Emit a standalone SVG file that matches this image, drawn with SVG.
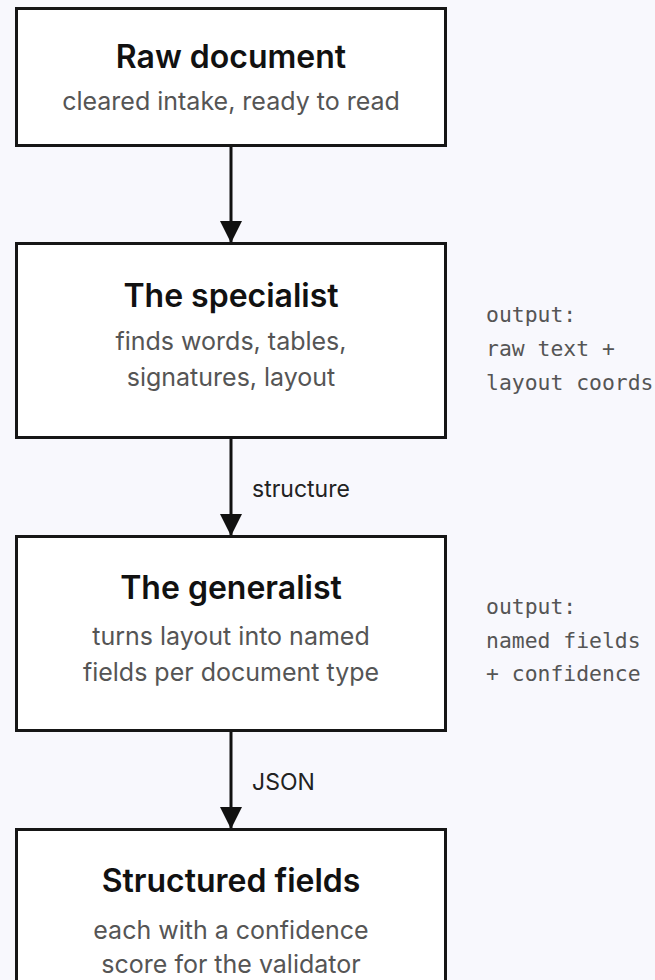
<svg xmlns="http://www.w3.org/2000/svg" width="655" height="980" viewBox="0 0 655 980">
  <defs>
    <style>
      .box { fill: #ffffff; stroke: #161616; stroke-width: 3; }
      .title { font-family: Inter, "Noto Sans", "Liberation Sans", sans-serif; font-weight: 600; font-size: 32px; fill: #111111; text-anchor: middle; }
      .sub { font-family: Inter, "Noto Sans", "Liberation Sans", sans-serif; font-size: 25px; fill: #555555; text-anchor: middle; }
      .edge { stroke: #111111; stroke-width: 3; fill: none; }
      .elabel { font-family: Inter, "Noto Sans", "Liberation Sans", sans-serif; font-size: 23px; fill: #222222; }
      .note { font-family: "DejaVu Sans Mono", "Liberation Mono", monospace; font-size: 21.4px; fill: #555555; }
    </style>
    <marker id="arrow" viewBox="0 0 22 22" refX="22" refY="11" markerWidth="22" markerHeight="22" markerUnits="userSpaceOnUse" orient="auto">
      <path d="M0,0 L22,11 L0,22 Z" fill="#111111"/>
    </marker>
  </defs>

  <rect width="655" height="980" fill="#f8f8fd"/>

  <!-- connectors -->
  <g id="connectors">
    <line class="edge" x1="231" y1="146" x2="231" y2="243" marker-end="url(#arrow)"/>
    <line class="edge" x1="231" y1="439" x2="231" y2="536" marker-end="url(#arrow)"/>
    <text class="elabel" x="252" y="497">structure</text>
    <line class="edge" x1="231" y1="732" x2="231" y2="829" marker-end="url(#arrow)"/>
    <text class="elabel" x="252" y="790">JSON</text>
  </g>

  <g id="raw-document">
    <rect class="box" x="16.5" y="8.5" width="429" height="137"/>
    <text class="title" x="231" y="67.5">Raw document</text>
    <text class="sub" x="231" y="110">cleared intake, ready to read</text>
  </g>

  <g id="specialist">
    <rect class="box" x="16.5" y="243.5" width="429" height="194"/>
    <text class="title" x="231" y="306.5">The specialist</text>
    <text class="sub" x="231" y="350">finds words, tables,</text>
    <text class="sub" x="231" y="386">signatures, layout</text>
  </g>

  <g id="specialist-output">
    <text class="note" x="486" y="322">output:</text>
    <text class="note" x="486" y="356">raw text +</text>
    <text class="note" x="486" y="390">layout coords</text>
  </g>

  <g id="generalist">
    <rect class="box" x="16.5" y="536.5" width="429" height="194"/>
    <text class="title" x="231" y="598.5">The generalist</text>
    <text class="sub" x="231" y="645">turns layout into named</text>
    <text class="sub" x="231" y="681">fields per document type</text>
  </g>

  <g id="generalist-output">
    <text class="note" x="486" y="614">output:</text>
    <text class="note" x="486" y="648">named fields</text>
    <text class="note" x="486" y="681">+ confidence</text>
  </g>

  <g id="structured-fields">
    <rect class="box" x="16.5" y="829.5" width="429" height="170"/>
    <text class="title" x="231" y="891.5">Structured fields</text>
    <text class="sub" x="231" y="939">each with a confidence</text>
    <text class="sub" x="231" y="973">score for the validator</text>
  </g>
</svg>
